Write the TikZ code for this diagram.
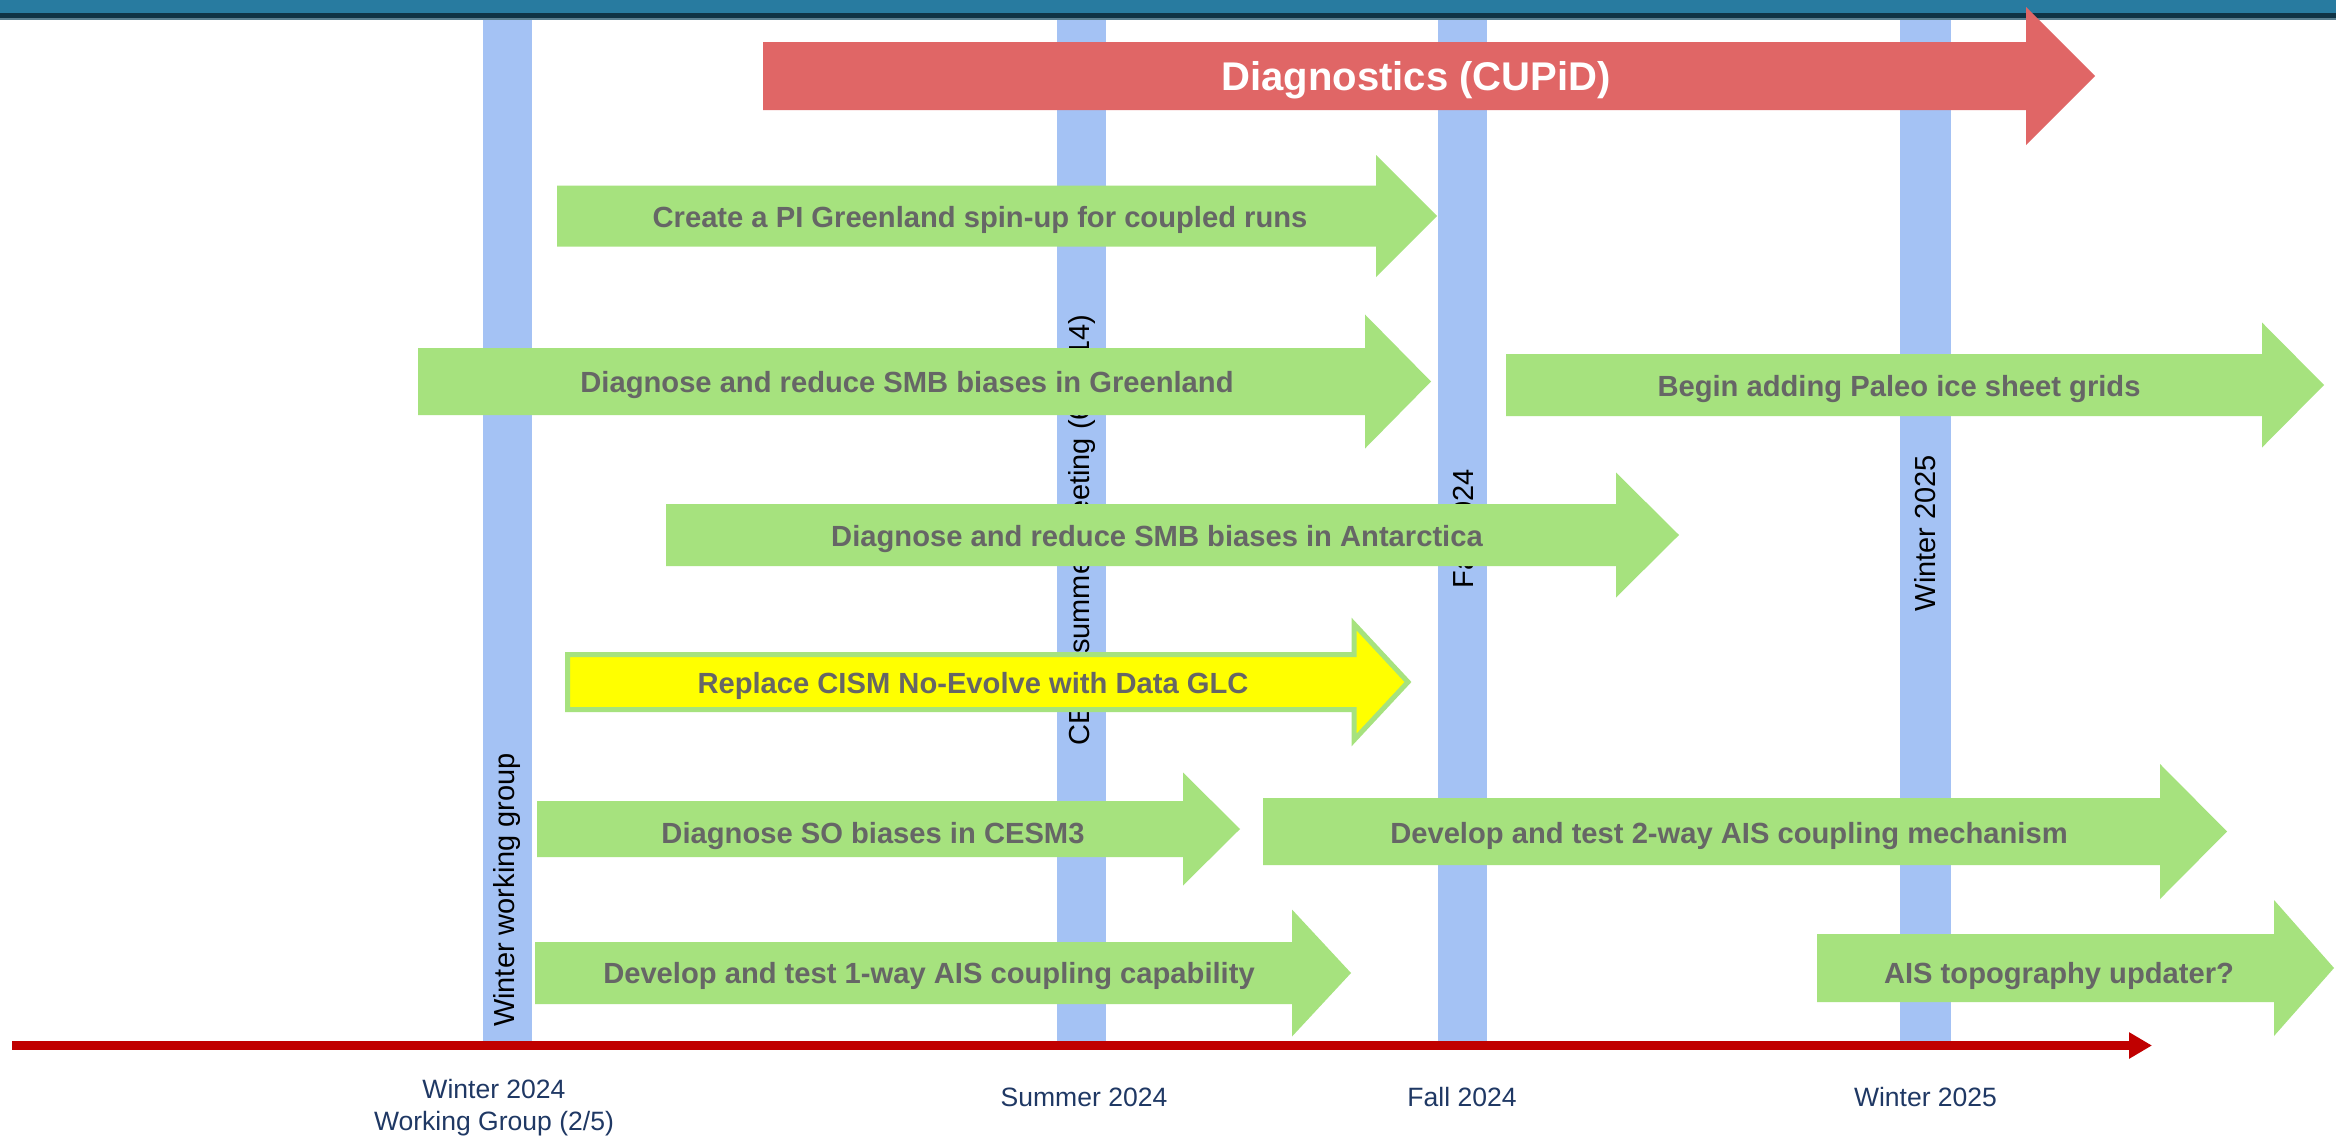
\documentclass[tikz,border=0pt]{standalone}
\usepackage{fontspec}
\setmainfont{Liberation Sans}
\usetikzlibrary{arrows.meta}
\definecolor{bandteal}{HTML}{287BA0}
\definecolor{banddark}{HTML}{0F3345}
\definecolor{bandline}{HTML}{5A7F90}
\definecolor{barblue}{HTML}{A4C2F4}
\definecolor{taskgreen}{HTML}{A6E27E}
\definecolor{taskgray}{HTML}{666666}
\definecolor{diagred}{HTML}{E06666}
\definecolor{axisred}{HTML}{C00000}
\definecolor{datenavy}{HTML}{1F3864}
\definecolor{hiyellow}{HTML}{FFFF00}
\tikzset{
  taskarrow/.style={fill=taskgreen},
  hiarrow/.style={fill=hiyellow, draw=taskgreen, line width=0.1cm},
  diagarrow/.style={fill=diagred},
  tasklabel/.style={font=\fontsize{16.6}{19.9}\selectfont\bfseries, text=taskgray, inner sep=0pt},
  diaglabel/.style={font=\fontsize{22.8}{27}\selectfont\bfseries, text=white, inner sep=0pt},
  eventbar/.style={fill=barblue},
  eventlabel/.style={font=\fontsize{16.5}{19.8}\selectfont, rotate=90, inner sep=0pt},
  datelabel/.style={font=\fontsize{15.1}{18.1}\selectfont, text=datenavy, align=center, inner sep=0pt},
  axisline/.style={axisred, line width=0.18cm, -{Triangle[length=0.46cm,width=0.5cm]}},
}
% block arrow: style, left, head base, tip, centre y, body half, head half
\newcommand{\blockarrow}[7]{%
  \fill[#1] (#2,#5-#6) -- (#3,#5-#6) -- (#3,#5-#7) -- (#4,#5)
    -- (#3,#5+#7) -- (#3,#5+#6) -- (#2,#5+#6) -- cycle;}

\begin{document}
\begin{tikzpicture}[x=0.02cm, y=-0.02cm]
  \useasboundingbox[fill=white] (0,0) rectangle (2336,1136);

  % header band
  \fill[bandteal] (0,0) rectangle (2336,13);
  \fill[banddark] (0,13) rectangle (2336,18);
  \fill[bandline] (0,18) rectangle (2336,19.5);

  % milestone bars
  \fill[eventbar] (483,19.5) rectangle (532,1045);
  \fill[eventbar] (1057,19.5) rectangle (1106,1045);
  \fill[eventbar] (1438,19.5) rectangle (1487,1045);
  \fill[eventbar] (1900,19.5) rectangle (1951,1045);

  \node[eventlabel] (wwg) at (507,890) {Winter working group};
  \node[eventlabel] (cesm) at (1081.5,530) {CESM summer meeting (6/11-14)};
  \node[eventlabel] (fall) at (1463,529) {Fall 2024};
  \node[eventlabel] (win25) at (1925.5,533) {Winter 2025};

  % tasks
  \blockarrow{diagarrow}{763}{2026}{2095}{76}{34}{69}
  \node[diaglabel] (diag) at (1416,80) {Diagnostics (CUPiD)};

  \blockarrow{taskarrow}{557}{1376}{1437}{216}{30.5}{61}
  \node[tasklabel] (spinup) at (980,220) {Create a PI Greenland spin-up for coupled runs};

  \blockarrow{taskarrow}{418}{1365}{1431}{381.5}{33.5}{67}
  \node[tasklabel] (smbgris) at (907,385) {Diagnose and reduce SMB biases in Greenland};

  \blockarrow{taskarrow}{1506}{2262}{2324}{385}{31}{62.5}
  \node[tasklabel] (paleo) at (1899,389) {Begin adding Paleo ice sheet grids};

  \blockarrow{taskarrow}{666}{1616}{1679}{535}{31}{62.5}
  \node[tasklabel] (smbais) at (1157,539) {Diagnose and reduce SMB biases in Antarctica};

  \blockarrow{hiarrow}{567.5}{1354}{1408}{682}{27.5}{58}
  \node[tasklabel] (dglc) at (973,686) {Replace CISM No-Evolve with Data GLC};

  \blockarrow{taskarrow}{537}{1183}{1240}{829}{28}{56.5}
  \node[tasklabel] (sobias) at (873,836) {Diagnose SO biases in CESM3};

  \blockarrow{taskarrow}{1263}{2160}{2227}{831.5}{33.5}{67.5}
  \node[tasklabel] (twoway) at (1729,836) {Develop and test 2-way AIS coupling mechanism};

  \blockarrow{taskarrow}{535}{1292}{1351}{973}{31}{63.5}
  \node[tasklabel] (oneway) at (929,976) {Develop and test 1-way AIS coupling capability};

  \blockarrow{taskarrow}{1817}{2274}{2334}{968}{34}{68}
  \node[tasklabel] (topo) at (2059,976) {AIS topography updater?};

  % time axis
  \coordinate (axstart) at (12,1045.5);
  \coordinate (axend) at (2152,1045.5);
  \draw[axisline] (axstart) -- (axend);

  \node[datelabel] (d1) at (494,1108) {Winter 2024\\Working Group (2/5)};
  \node[datelabel] (d2) at (1084,1097) {Summer 2024};
  \node[datelabel] (d3) at (1462,1097) {Fall 2024};
  \node[datelabel] (d4) at (1925.5,1097) {Winter 2025};
\end{tikzpicture}
\end{document}
